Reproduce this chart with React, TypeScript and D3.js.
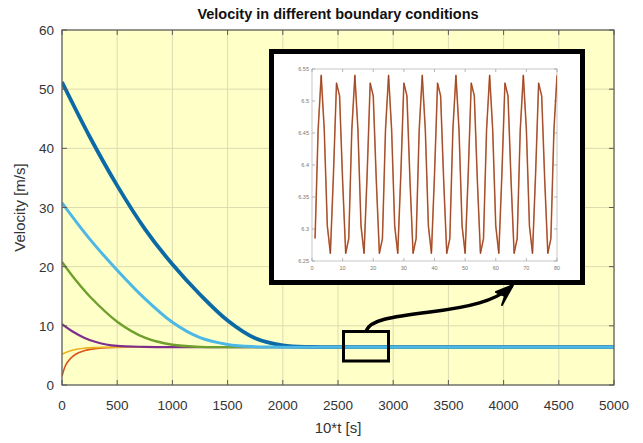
import React from "react";
import * as d3 from "d3";

const W = 643;
const H = 443;

const xTicks = [0, 500, 1000, 1500, 2000, 2500, 3000, 3500, 4000, 4500, 5000];
const yTicks = [0, 10, 20, 30, 40, 50, 60];

type Pt = [number, number];

const blueSeries: Pt[] = [
  [0, 51.2], [250, 42.0], [500, 33.7], [750, 26.4], [1000, 20.4], [1250, 15.3],
  [1500, 10.9], [1750, 7.9], [2000, 6.7], [2250, 6.42], [2500, 6.4], [5000, 6.4],
];
const redSeries: Pt[] = [
  [0, 1.5], [25, 3.0], [50, 3.9], [100, 4.9], [150, 5.45], [200, 5.8], [300, 6.15],
  [400, 6.3], [600, 6.38], [1000, 6.4], [5000, 6.4],
];
const yellowSeries: Pt[] = [
  [0, 5.2], [50, 5.6], [100, 5.9], [200, 6.2], [300, 6.32], [500, 6.4], [5000, 6.4],
];
const purpleSeries: Pt[] = [
  [0, 10.3], [100, 9.0], [200, 8.0], [300, 7.3], [400, 6.85], [500, 6.6], [750, 6.45],
  [1000, 6.4], [5000, 6.4],
];
const greenSeries: Pt[] = [
  [0, 20.8], [125, 17.7], [250, 15.0], [500, 10.7], [750, 8.0], [1000, 6.8],
  [1250, 6.45], [1500, 6.4], [5000, 6.4],
];
const lightBlueSeries: Pt[] = [
  [0, 30.8], [250, 24.7], [500, 19.4], [750, 14.6], [1000, 10.6], [1250, 8.0],
  [1500, 6.85], [1750, 6.47], [2000, 6.4], [5000, 6.4],
];

const seriesList = [
  { data: blueSeries, color: "#0b6aa5", width: 3.8 },
  { data: redSeries, color: "#d95319", width: 1.6 },
  { data: yellowSeries, color: "#edb120", width: 1.6 },
  { data: purpleSeries, color: "#7e2f8e", width: 2.2 },
  { data: greenSeries, color: "#6f9f2c", width: 2.4 },
  { data: lightBlueSeries, color: "#4db8e6", width: 3 },
];

// inset data (t = 1..80)
const insetValues = [
  6.285, 6.455, 6.54, 6.455, 6.305, 6.262, 6.385, 6.528, 6.508, 6.375, 6.262,
  6.285, 6.455, 6.54, 6.455, 6.305, 6.262, 6.385, 6.528, 6.508, 6.375, 6.262,
  6.285, 6.455, 6.54, 6.455, 6.305, 6.262, 6.385, 6.528, 6.508, 6.375, 6.262,
  6.285, 6.455, 6.54, 6.455, 6.305, 6.262, 6.385, 6.528, 6.508, 6.375, 6.262,
  6.285, 6.455, 6.54, 6.455, 6.305, 6.262, 6.385, 6.528, 6.508, 6.375, 6.262,
  6.285, 6.455, 6.54, 6.455, 6.305, 6.262, 6.385, 6.528, 6.508, 6.375, 6.262,
  6.285, 6.455, 6.54, 6.455, 6.305, 6.262, 6.385, 6.528, 6.508, 6.375, 6.262,
  6.285, 6.455, 6.54,
];
const insetXTicks = [0, 10, 20, 30, 40, 50, 60, 70, 80];
const insetYTicks = [6.25, 6.3, 6.35, 6.4, 6.45, 6.5, 6.55];

const FONT = "'Liberation Sans', Arial, Helvetica, sans-serif";

export default function App() {
  const L = 62, R = 614, T = 30, B = 385;
  const x = d3.scaleLinear().domain([0, 5000]).range([L, R]);
  const y = d3.scaleLinear().domain([0, 60]).range([B, T]);
  const line = d3
    .line<Pt>()
    .x((d) => x(d[0]))
    .y((d) => y(d[1]))
    .curve(d3.curveCatmullRom.alpha(0.5));

  // inset
  const iL = 312, iR = 557, iT = 69, iB = 261;
  const ix = d3.scaleLinear().domain([0, 80]).range([iL, iR]);
  const iy = d3.scaleLinear().domain([6.25, 6.55]).range([iB, iT]);
  const insetLine = d3
    .line<number>()
    .x((_, i) => ix(i + 1))
    .y((d) => iy(d));

  const axisColor = "#5a5a5a";
  const gridColor = "#dedbb0";
  const textColor = "#333";

  return (
    <svg
      width={W}
      height={H}
      style={{ position: "absolute", left: 0, top: 0, background: "#fff" }}
      fontFamily={FONT}
    >
      <rect x={0} y={0} width={W} height={H} fill="#fff" />
      <rect x={L} y={T} width={R - L} height={B - T} fill="#ffffc8" />
      {/* grid */}
      {xTicks.map((t) => (
        <line key={"gx" + t} x1={x(t)} x2={x(t)} y1={T} y2={B} stroke={gridColor} strokeWidth={1} />
      ))}
      {yTicks.map((t) => (
        <line key={"gy" + t} x1={L} x2={R} y1={y(t)} y2={y(t)} stroke={gridColor} strokeWidth={1} />
      ))}
      {/* series */}
      <g clipPath="url(#plotclip)">
        {seriesList.map((s, i) => (
          <path key={i} d={line(s.data) || ""} fill="none" stroke={s.color} strokeWidth={s.width} strokeLinejoin="round" />
        ))}
      </g>
      <defs>
        <clipPath id="plotclip">
          <rect x={L} y={T} width={R - L} height={B - T} />
        </clipPath>
        <clipPath id="insetclip">
          <rect x={iL} y={iT - 2} width={iR - iL} height={iB - iT + 4} />
        </clipPath>
      </defs>
      {/* axes box + ticks */}
      <rect x={L} y={T} width={R - L} height={B - T} fill="none" stroke={axisColor} strokeWidth={1.2} />
      {xTicks.map((t) => (
        <g key={"tx" + t}>
          <line x1={x(t)} x2={x(t)} y1={B} y2={B - 5} stroke={axisColor} />
          <line x1={x(t)} x2={x(t)} y1={T} y2={T + 5} stroke={axisColor} />
          <text x={x(t)} y={410} textAnchor="middle" fontSize={13.5} fill={textColor}>
            {t}
          </text>
        </g>
      ))}
      {yTicks.map((t) => (
        <g key={"ty" + t}>
          <line x1={L} x2={L + 5} y1={y(t)} y2={y(t)} stroke={axisColor} />
          <line x1={R} x2={R - 5} y1={y(t)} y2={y(t)} stroke={axisColor} />
          <text x={54} y={y(t) + 5} textAnchor="end" fontSize={13.5} fill={textColor}>
            {t}
          </text>
        </g>
      ))}
      {/* labels */}
      <text x={338} y={19} textAnchor="middle" fontSize={14.5} fontWeight="bold" fill="#111">
        Velocity in different boundary conditions
      </text>
      <text x={338} y={433} textAnchor="middle" fontSize={15} fill={textColor}>
        10*t [s]
      </text>
      <text
        transform={`translate(25,${(T + B) / 2}) rotate(-90)`}
        textAnchor="middle"
        fontSize={15}
        fill={textColor}
      >
        Velocity [m/s]
      </text>

      {/* inset box */}
      <rect x={271.5} y={51.5} width={311} height={231} fill="#fff" stroke="#000" strokeWidth={5} />
      <rect x={iL} y={iT} width={iR - iL} height={iB - iT} fill="none" stroke="#b8b8b8" strokeWidth={0.8} />
      {insetXTicks.map((t) => (
        <g key={"ix" + t}>
          <line x1={ix(t)} x2={ix(t)} y1={iB} y2={iB - 3} stroke="#999" strokeWidth={0.7} />
          <line x1={ix(t)} x2={ix(t)} y1={iT} y2={iT + 3} stroke="#999" strokeWidth={0.7} />
          <text x={ix(t)} y={iB + 9} textAnchor="middle" fontSize={5.5} fill="#777">
            {t}
          </text>
        </g>
      ))}
      {insetYTicks.map((t) => (
        <g key={"iy" + t}>
          <line x1={iL} x2={iL + 3} y1={iy(t)} y2={iy(t)} stroke="#999" strokeWidth={0.7} />
          <line x1={iR} x2={iR - 3} y1={iy(t)} y2={iy(t)} stroke="#999" strokeWidth={0.7} />
          <text x={iL - 3} y={iy(t) + 2} textAnchor="end" fontSize={5.5} fill="#777">
            {t.toFixed(2).replace(/0$/, "")}
          </text>
        </g>
      ))}
      <g clipPath="url(#insetclip)">
        <path d={insetLine(insetValues) || ""} fill="none" stroke="#cf7444" strokeWidth={1.6} strokeLinejoin="round" />
        <path d={insetLine(insetValues) || ""} fill="none" stroke="#7a3320" strokeWidth={0.6} strokeLinejoin="round" />
      </g>

      {/* zoom rectangle and arrow */}
      <rect x={343.5} y={331.5} width={45} height={29.5} fill="none" stroke="#000" strokeWidth={3} />
      <path
        d="M366,331 C370,320 390,317 430,312 C470,307 495,301 511,287"
        fill="none"
        stroke="#000"
        strokeWidth={3.5}
        strokeLinecap="round"
      />
      <path d="M513,285 L496,292 L505,296 L502,305 Z" fill="#000" stroke="#000" strokeWidth={2} strokeLinejoin="round" />
    </svg>
  );
}
